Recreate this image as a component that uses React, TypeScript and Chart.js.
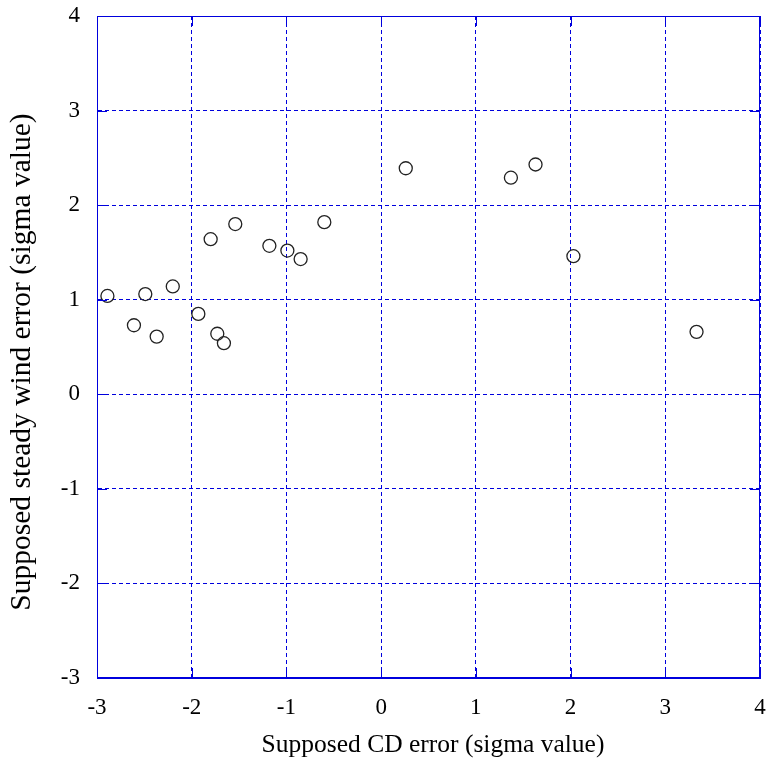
import React, { useEffect, useRef } from "react";
import { Chart, registerables } from "chart.js";

Chart.register(...registerables);

// Supposed CD error (x) vs supposed steady wind error (y), both in sigma units
const cdError = [
  -2.89, -2.61, -2.49, -2.37, -2.2, -1.93, -1.8, -1.73, -1.66, -1.54,
  -1.18, -0.99, -0.85, -0.6, 0.26, 1.37, 1.63, 2.03, 3.33,
];
const windError = [
  1.04, 0.73, 1.06, 0.61, 1.14, 0.85, 1.64, 0.64, 0.54, 1.8,
  1.57, 1.52, 1.43, 1.82, 2.39, 2.29, 2.43, 1.46, 0.66,
];

const xTitle = "Supposed CD error (sigma value)";
const yTitle = "Supposed steady wind error (sigma value)";
const axisMin = -3;
const axisMax = 4;

const BLUE = "#0000dd";
const FONT = '"Liberation Serif", "Times New Roman", serif';

// Frame on all four sides with short inward tick marks at each major tick
const framePlugin = {
  id: "frame",
  afterDraw(chart: any) {
    const { ctx, chartArea } = chart;
    const { left, right, top, bottom } = chartArea;
    const xs = chart.scales.x;
    const ys = chart.scales.y;
    ctx.save();
    ctx.strokeStyle = BLUE;
    ctx.lineWidth = 1;
    ctx.setLineDash([]);
    ctx.strokeRect(left + 0.5, top + 0.5, right - left - 1, bottom - top - 1);
    const tick = 10;
    ctx.beginPath();
    xs.ticks.forEach((t: any) => {
      const px = Math.round(xs.getPixelForValue(t.value)) + 0.5;
      ctx.moveTo(px, top);
      ctx.lineTo(px, top + tick);
      ctx.moveTo(px, bottom);
      ctx.lineTo(px, bottom - tick);
    });
    ys.ticks.forEach((t: any) => {
      const py = Math.round(ys.getPixelForValue(t.value)) + 0.5;
      ctx.moveTo(left, py);
      ctx.lineTo(left + tick, py);
      ctx.moveTo(right, py);
      ctx.lineTo(right - tick, py);
    });
    ctx.stroke();
    ctx.restore();
  },
};

// Axis titles, placed slightly off the plot centre like the original layout
const axisTitlePlugin = {
  id: "axisTitles",
  afterDraw(chart: any) {
    const { ctx, chartArea, height } = chart;
    const cx = (chartArea.left + chartArea.right) / 2 + 4.5;
    const cy = (chartArea.top + chartArea.bottom) / 2 + 15;
    ctx.save();
    ctx.fillStyle = "#000";
    ctx.textAlign = "center";
    ctx.textBaseline = "middle";
    ctx.font = `25.5px ${FONT}`;
    ctx.fillText(xTitle, cx, height - 16);
    ctx.translate(22, cy);
    ctx.rotate(-Math.PI / 2);
    ctx.font = `29.5px ${FONT}`;
    ctx.fillText(yTitle, 0, 0);
    ctx.restore();
  },
};

export default function App() {
  const canvasRef = useRef<HTMLCanvasElement | null>(null);

  useEffect(() => {
    const canvas = canvasRef.current;
    if (!canvas) return;
    const points = cdError.map((x, i) => ({ x, y: windError[i] }));
    const chart = new Chart(canvas, {
      type: "scatter",
      data: {
        datasets: [
          {
            data: points,
            pointStyle: "circle",
            pointRadius: 6.5,
            pointHoverRadius: 6.5,
            pointBorderWidth: 1.3,
            pointBorderColor: "#222222",
            pointBackgroundColor: "rgba(0,0,0,0)",
          },
        ],
      },
      options: {
        animation: false,
        responsive: false,
        maintainAspectRatio: false,
        devicePixelRatio: 1,
        layout: { padding: { top: 16, right: 8, left: 0, bottom: 0 } },
        plugins: {
          legend: { display: false },
          tooltip: { enabled: false },
        },
        scales: {
          x: {
            type: "linear",
            min: axisMin,
            max: axisMax,
            ticks: {
              stepSize: 1,
              color: "#000",
              padding: 16,
              font: { family: FONT, size: 23 },
            },
            grid: { color: BLUE, lineWidth: 1, drawTicks: false },
            border: { display: true, color: BLUE, width: 1, dash: [4, 3] },
            title: { display: false },
            afterFit(scale: any) {
              scale.height = 83;
              scale.paddingLeft = 0;
              scale.paddingRight = 0;
            },
          },
          y: {
            type: "linear",
            min: axisMin,
            max: axisMax,
            ticks: {
              stepSize: 1,
              color: "#000",
              padding: 17,
              font: { family: FONT, size: 23 },
            },
            grid: { color: BLUE, lineWidth: 1, drawTicks: false },
            border: { display: true, color: BLUE, width: 1, dash: [4, 3] },
            title: { display: false },
            afterFit(scale: any) {
              scale.width = 97;
              scale.paddingTop = 0;
              scale.paddingBottom = 0;
            },
          },
        },
      },
      plugins: [framePlugin, axisTitlePlugin],
    });
    return () => chart.destroy();
  }, []);

  return (
    <div style={{ position: "absolute", left: 0, top: 0, width: 768, height: 761, background: "#fff" }}>
      <canvas ref={canvasRef} width={768} height={761} style={{ display: "block" }} />
    </div>
  );
}
